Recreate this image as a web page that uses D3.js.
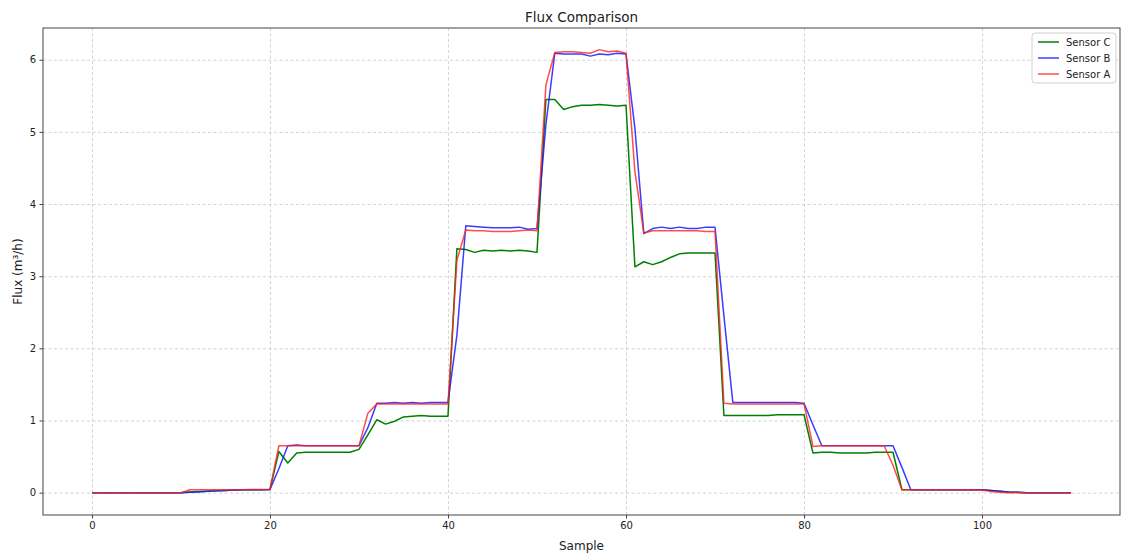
<!DOCTYPE html>
<html>
<head>
<meta charset="utf-8">
<script src="https://cdn.jsdelivr.net/npm/d3@7"></script>
<style>
  body { margin: 0; background: #fff; }
  svg text { font-family: "DejaVu Sans", sans-serif; fill: #222; }
  .grid line { stroke: #c8c8c8; stroke-dasharray: 3,2.5; stroke-width: 0.8; }
  .grid path { display: none; }
</style>
</head>
<body>
<div id="chart"></div>
<script>
// sample index 0..110
var samples = d3.range(0, 111);

var sensorC = [
  0, 0, 0, 0, 0, 0, 0, 0, 0, 0, 0,
  0.01, 0.015, 0.02, 0.025, 0.03, 0.035, 0.04, 0.04, 0.04, 0.045,
  0.57, 0.41, 0.55, 0.56, 0.56, 0.56, 0.56, 0.56, 0.56, 0.60,
  0.80, 1.01, 0.95, 0.99, 1.05, 1.06, 1.07, 1.06, 1.06, 1.06,
  3.38, 3.37, 3.33, 3.36, 3.35, 3.36, 3.35, 3.36, 3.35, 3.33,
  5.45, 5.45, 5.31, 5.35, 5.37, 5.37, 5.38, 5.37, 5.36, 5.37,
  3.13, 3.20, 3.16, 3.20, 3.26, 3.31, 3.32, 3.32, 3.32, 3.32,
  1.07, 1.07, 1.07, 1.07, 1.07, 1.07, 1.08, 1.08, 1.08, 1.08,
  0.55, 0.56, 0.56, 0.55, 0.55, 0.55, 0.55, 0.56, 0.56, 0.56,
  0.04, 0.04, 0.04, 0.04, 0.04, 0.04, 0.04, 0.04, 0.04, 0.04,
  0.03, 0.02, 0.01, 0.005, 0, 0, 0, 0, 0, 0
];

var sensorB = [
  0, 0, 0, 0, 0, 0, 0, 0, 0, 0, 0,
  0.005, 0.01, 0.02, 0.025, 0.03, 0.035, 0.04, 0.04, 0.04, 0.045,
  0.33, 0.65, 0.66, 0.65, 0.65, 0.65, 0.65, 0.65, 0.65, 0.65,
  0.90, 1.24, 1.24, 1.25, 1.24, 1.25, 1.24, 1.25, 1.25, 1.25,
  2.18, 3.70, 3.69, 3.68, 3.67, 3.67, 3.67, 3.68, 3.65, 3.66,
  5.10, 6.09, 6.08, 6.08, 6.08, 6.05, 6.08, 6.07, 6.09, 6.08,
  5.05, 3.59, 3.66, 3.68, 3.66, 3.68, 3.66, 3.66, 3.68, 3.68,
  2.45, 1.25, 1.25, 1.25, 1.25, 1.25, 1.25, 1.25, 1.25, 1.24,
  0.94, 0.65, 0.65, 0.65, 0.65, 0.65, 0.65, 0.65, 0.65, 0.65,
  0.35, 0.04, 0.04, 0.04, 0.04, 0.04, 0.04, 0.04, 0.04, 0.04,
  0.03, 0.02, 0.01, 0.005, 0, 0, 0, 0, 0, 0
];

var sensorA = [
  0, 0, 0, 0, 0, 0, 0, 0, 0, 0, 0,
  0.04, 0.04, 0.04, 0.04, 0.04, 0.04, 0.04, 0.045, 0.045, 0.045,
  0.65, 0.65, 0.65, 0.65, 0.65, 0.65, 0.65, 0.65, 0.65, 0.65,
  1.10, 1.23, 1.23, 1.23, 1.23, 1.23, 1.23, 1.23, 1.23, 1.23,
  3.22, 3.64, 3.63, 3.63, 3.62, 3.62, 3.62, 3.63, 3.64, 3.63,
  5.65, 6.10, 6.11, 6.11, 6.10, 6.09, 6.14, 6.11, 6.12, 6.09,
  4.45, 3.60, 3.63, 3.63, 3.63, 3.63, 3.63, 3.63, 3.62, 3.62,
  1.24, 1.23, 1.23, 1.23, 1.23, 1.23, 1.23, 1.23, 1.23, 1.23,
  0.64, 0.65, 0.65, 0.65, 0.65, 0.65, 0.65, 0.65, 0.65, 0.38,
  0.04, 0.04, 0.04, 0.04, 0.04, 0.04, 0.04, 0.04, 0.04, 0.035,
  0.015, 0.005, 0, 0, 0, 0, 0, 0, 0, 0
];

var xTicks = [0, 20, 40, 60, 80, 100];
var yTicks = [0, 1, 2, 3, 4, 5, 6];

// drawn in this order, so Sensor A sits on top; legend keeps the same order
var seriesNames = ["Sensor C", "Sensor B", "Sensor A"];
var seriesValues = [sensorC, sensorB, sensorA];
var seriesColors = ["#008000", "#1a1aff", "#ff2020"];
var seriesAlpha = [1, 0.85, 0.8];

var margin = {top: 28, right: 1, bottom: 42, left: 43},
    width = 1121 - margin.left - margin.right,
    height = 557 - margin.top - margin.bottom;

var x = d3.scaleLinear().domain([-5.5, 115.5]).range([0, width]);
var y = d3.scaleLinear().domain([-0.31, 6.44]).range([height, 0]);

var svgRoot = d3.select("#chart").append("svg")
    .attr("width", 1121)
    .attr("height", 557);

var svg = svgRoot.append("g")
    .attr("transform", "translate(" + margin.left + "," + margin.top + ")");

// grid
svg.append("g")
    .attr("class", "grid")
    .attr("transform", "translate(0," + height + ")")
    .call(d3.axisBottom(x).tickValues(xTicks).tickSize(-height).tickFormat(""));
svg.append("g")
    .attr("class", "grid")
    .call(d3.axisLeft(y).tickValues(yTicks).tickSize(-width).tickFormat(""));

// lines
var line = d3.line()
    .x(function (d, i) { return x(samples[i]); })
    .y(function (d) { return y(d); });

seriesValues.forEach(function (vals, k) {
    svg.append("path")
        .datum(vals)
        .attr("fill", "none")
        .attr("stroke", seriesColors[k])
        .attr("stroke-opacity", seriesAlpha[k])
        .attr("stroke-width", 1.5)
        .attr("stroke-linejoin", "round")
        .attr("d", line);
});

// frame
svg.append("rect")
    .attr("width", width)
    .attr("height", height)
    .attr("fill", "none")
    .attr("stroke", "#444")
    .attr("stroke-width", 1);

// axes
var xAxis = svg.append("g")
    .attr("transform", "translate(0," + height + ")")
    .call(d3.axisBottom(x).tickValues(xTicks).tickSize(3.5).tickPadding(3.5).tickFormat(d3.format("d")));
var yAxis = svg.append("g")
    .call(d3.axisLeft(y).tickValues(yTicks).tickSize(3.5).tickPadding(3.5).tickFormat(d3.format("d")));
[xAxis, yAxis].forEach(function (a) {
    a.select(".domain").remove();
    a.selectAll(".tick line").attr("stroke", "#444");
    a.selectAll(".tick text").style("font-size", "10px").attr("fill", "#222");
});

// title and labels
svgRoot.append("text")
    .attr("x", margin.left + width / 2)
    .attr("y", 22)
    .attr("text-anchor", "middle")
    .style("font-size", "13.5px")
    .text("Flux Comparison");

svgRoot.append("text")
    .attr("x", margin.left + width / 2)
    .attr("y", 550)
    .attr("text-anchor", "middle")
    .style("font-size", "12px")
    .text("Sample");

svgRoot.append("text")
    .attr("transform", "translate(22," + (margin.top + height / 2) + ") rotate(-90)")
    .attr("text-anchor", "middle")
    .style("font-size", "12px")
    .text("Flux (m³/h)");

// legend
var legend = svg.append("g")
    .attr("transform", "translate(" + (width - 88) + ",5)");
legend.append("rect")
    .attr("width", 84)
    .attr("height", 50)
    .attr("rx", 3)
    .attr("fill", "#fff")
    .attr("fill-opacity", 0.8)
    .attr("stroke", "#d0d0d0");
seriesNames.forEach(function (name, k) {
    var g = legend.append("g")
        .attr("transform", "translate(0," + (9 + k * 16) + ")");
    g.append("line")
        .attr("x1", 6).attr("x2", 27)
        .attr("y1", 0).attr("y2", 0)
        .attr("stroke", seriesColors[k])
        .attr("stroke-opacity", seriesAlpha[k])
        .attr("stroke-width", 1.5);
    g.append("text")
        .attr("x", 34)
        .attr("y", 4)
        .style("font-size", "10px")
        .text(name);
});
</script>
</body>
</html>
